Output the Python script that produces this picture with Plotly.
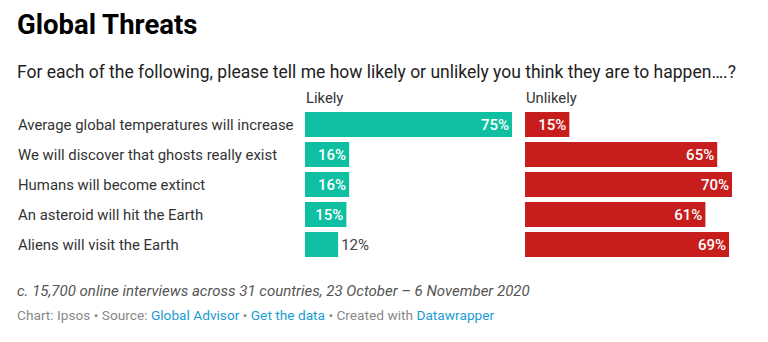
import plotly.graph_objects as go

categories = [
    "Average global temperatures will increase",
    "We will discover that ghosts really exist",
    "Humans will become extinct",
    "An asteroid will hit the Earth",
    "Aliens will visit the Earth",
]
likely = [75, 16, 16, 15, 12]
unlikely = [15, 65, 70, 61, 69]
panel_titles = ["Likely", "Unlikely"]

W, H = 768, 342
TEAL = "#0ebfa1"
RED = "#c71e1d"
FONT = "Roboto"

def px(x):
    return x / W

def py(y):
    return 1 - y / H

def positions(vals, min_inside):
    return ["inside" if v >= min_inside else "outside" for v in vals]

def bar(vals, color, xaxis):
    return go.Bar(
        y=categories, x=vals, orientation="h", xaxis=xaxis, yaxis="y",
        marker=dict(color=color, line=dict(width=0)),
        text=[f"{v}%" for v in vals],
        textposition=positions(vals, 14),
        insidetextanchor="end",
        insidetextfont=dict(family=FONT, size=15, color="white", weight=500),
        outsidetextfont=dict(family=FONT, size=15, color="#444444"),
        cliponaxis=False, hoverinfo="skip",
    )

fig = go.Figure()
fig.add_trace(bar(likely, TEAL, "x"))
fig.add_trace(bar(unlikely, RED, "x2"))

annotations = []
for c in categories:
    annotations.append(dict(
        x=px(16), xref="paper", y=c, yref="y", xanchor="left", yanchor="middle",
        text=c, showarrow=False, font=dict(family=FONT, size=14.9, color="#333333"),
    ))
for t, x0 in zip(panel_titles, [304, 524]):
    annotations.append(dict(
        x=px(x0), xref="paper", y=py(98), yref="paper", xanchor="left", yanchor="middle",
        text=t, showarrow=False, font=dict(family=FONT, size=14.8, color="#333333"),
    ))
annotations += [
    dict(x=px(15), y=py(25), xref="paper", yref="paper", xanchor="left", yanchor="middle",
         text="<b>Global Threats</b>", showarrow=False,
         font=dict(family=FONT, size=27.5, color="#000000")),
    dict(x=px(15), y=py(72), xref="paper", yref="paper", xanchor="left", yanchor="middle",
         text="For each of the following, please tell me how likely or unlikely you think they are to happen….?",
         showarrow=False, font=dict(family=FONT, size=17.5, color="#222222")),
    dict(x=px(15), y=py(291), xref="paper", yref="paper", xanchor="left", yanchor="middle",
         text="<i>c. 15,700 online interviews across 31 countries, 23 October – 6 November 2020</i>",
         showarrow=False, font=dict(family=FONT, size=15, color="#555555")),
    dict(x=px(15), y=py(315), xref="paper", yref="paper", xanchor="left", yanchor="middle",
         text=("Chart: Ipsos • Source: <span style='color:#1b9bd3'>Global Advisor</span> • "
               "<span style='color:#1b9bd3'>Get the data</span> • Created with "
               "<span style='color:#1b9bd3'>Datawrapper</span>"),
         showarrow=False, font=dict(family=FONT, size=13.7, color="#888888")),
]

fig.update_layout(
    width=W, height=H, margin=dict(l=0, r=0, t=0, b=0),
    paper_bgcolor="white", plot_bgcolor="white",
    showlegend=False, bargap=1/6,
    xaxis=dict(domain=[px(305), px(512)], range=[0, max(likely)], visible=False, fixedrange=True),
    xaxis2=dict(domain=[px(525), px(732)], range=[0, max(unlikely)], visible=False,
                anchor="y", fixedrange=True),
    yaxis=dict(domain=[py(259.5), py(109.5)], autorange="reversed", visible=False,
               fixedrange=True),
    annotations=annotations,
    font=dict(family=FONT),
)

fig.write_html("out.html", config=dict(displayModeBar=False))
